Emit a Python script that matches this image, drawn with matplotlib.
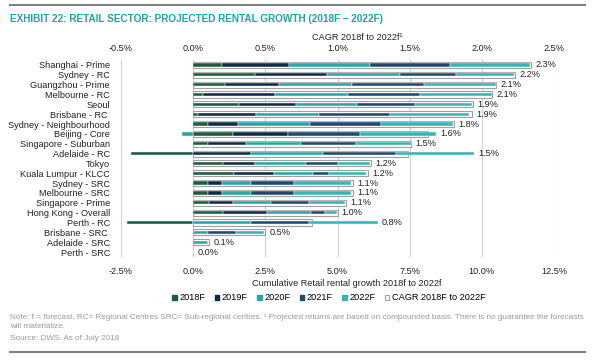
import matplotlib
matplotlib.use("Agg")
import matplotlib.pyplot as plt
from matplotlib.patches import Patch
from matplotlib.lines import Line2D
import numpy as np

plt.rcParams['font.family'] = ['Liberation Sans', 'DejaVu Sans']

# data (percent)
cities = ['Shanghai - Prime', 'Sydney - RC', 'Guangzhou - Prime', 'Melbourne - RC', 'Seoul',
          'Brisbane - RC ', 'Sydney - Neighbourhood', 'Beijing - Core', 'Singapore - Suburban',
          'Adelaide - RC', 'Tokyo', 'Kuala Lumpur - KLCC', 'Sydney - SRC', 'Melbourne - SRC',
          'Singapore - Prime', 'Hong Kong - Overall', 'Perth - RC', 'Brisbane - SRC ',
          'Adelaide - SRC', 'Perth - SRC']
g2018 = [0.99, 2.13, 1.11, 0.34, 1.60, 0.17, 0.52, 1.37, 0.52, -2.16,
         1.02, 1.42, 0.50, 0.50, 0.55, 1.02, -2.30, 0.0, 0.0, 0.0]
g2019 = [2.32, 2.49, 1.86, 2.50, 1.97, 2.00, 1.02, 1.90, 1.32, 2.02,
         1.13, 1.37, 0.50, 0.50, 0.83, 1.54, 0.0, 0.0, 0.0, 0.0]
g2020 = [2.80, 2.53, 2.52, 2.53, 2.11, 2.20, 2.50, -0.38, 1.89, 2.49,
         1.77, 1.35, 1.00, 1.00, 1.32, 1.52, 2.00, 0.50, 0.50, 0.0]
g2021 = [2.79, 1.97, 2.49, 2.49, 2.00, 2.46, 2.48, 2.50, 1.92, 2.52,
         1.09, 0.58, 1.50, 1.50, 1.32, 0.48, 2.00, 1.00, 0.0, 0.0]
g2022 = [2.77, 2.00, 2.50, 2.48, 1.98, 2.72, 2.48, 2.64, 1.89, 2.69,
         1.11, 1.25, 1.98, 1.98, 1.25, 0.42, 2.40, 0.95, 0.0, 0.0]
cagr = [2.34, 2.23, 2.10, 2.07, 1.94, 1.93, 1.81, 1.63, 1.51, 1.49,
        1.23, 1.21, 1.11, 1.11, 1.06, 1.00, 0.82, 0.50, 0.11, 0.0]

series = [('2018F', g2018, '#1d5c3e'), ('2019F', g2019, '#0f2b47'),
          ('2020F', g2020, '#2aa5a8'), ('2021F', g2021, '#1d4a6e'),
          ('2022F', g2022, '#38b4b4')]

fs = 6.6
txt = '#222222'

fig = plt.figure(figsize=(6, 3.6), dpi=100)
ax = fig.add_axes([121/600, 1-257/360, 433/600, 197/360])
ax2 = ax.twiny()
ax.set_zorder(ax2.get_zorder() + 1)
ax.patch.set_visible(False)

y = np.arange(len(cities))

# hollow CAGR bars on the top axis (behind)
ax2.barh(y, cagr, height=0.62, color='white', edgecolor='#a0a0a0', linewidth=0.8, zorder=2)
ax2.set_xlim(-0.5, 2.5)
ax2.set_xticks(np.arange(-0.5, 2.51, 0.5))
ax2.set_xticklabels(['%.1f%%' % v for v in np.arange(-0.5, 2.51, 0.5)])
ax2.grid(axis='x', color='#d0d0d0', linewidth=0.8, zorder=0)
ax2.set_axisbelow(True)

# stacked yearly growth on the bottom axis
pos = np.zeros(len(cities))
neg = np.zeros(len(cities))
for name, vals, col in series:
    v = np.array(vals)
    left = np.where(v >= 0, pos, neg)
    ax.barh(y, v, left=left, height=0.34, color=col, edgecolor='white', linewidth=0.3, zorder=3)
    pos = pos + np.clip(v, 0, None)
    neg = neg + np.clip(v, None, 0)

ax.set_xlim(-2.5, 12.5)
ax.set_xticks(np.arange(-2.5, 12.51, 2.5))
ax.set_xticklabels(['%.1f%%' % v for v in np.arange(-2.5, 12.51, 2.5)])
ax.set_ylim(len(cities) - 0.5, -0.5)
ax2.set_ylim(len(cities) - 0.5, -0.5)
ax.set_yticks(y)
ax.set_yticklabels(cities)

for a in (ax, ax2):
    for s in a.spines.values():
        s.set_visible(False)
    a.tick_params(length=0, labelsize=fs, colors=txt)
ax.tick_params(axis='x', pad=7)
ax2.tick_params(axis='x', pad=5)
ax.tick_params(axis='y', pad=8)

# CAGR labels to the right of whichever bar ends further right
fig.canvas.draw()
for i in range(len(cities)):
    xs = ax.transData.transform((pos[i], 0))[0]
    xc = ax2.transData.transform((cagr[i], 0))[0]
    target, xv = (ax, pos[i]) if xs > xc else (ax2, cagr[i])
    target.annotate('%.1f%%' % cagr[i], (xv, i), xytext=(3, 0), textcoords='offset points',
                    va='center', ha='left', fontsize=fs, color=txt, zorder=5)

fig.text(357/600, 1-38/360, 'CAGR 2018f to 2022f\u00b9', ha='center', va='center', fontsize=fs, color=txt)
fig.text(347/600, 1-284/360, 'Cumulative Retail rental growth 2018f to 2022f', ha='center', va='center',
         fontsize=fs, color=txt)

handles = [Patch(facecolor=c, edgecolor=c, label=n) for n, _, c in series]
handles.append(Patch(facecolor='white', edgecolor='#8a8a8a', linewidth=0.6, label='CAGR 2018F to 2022F'))
fig.legend(handles=handles, loc='center', bbox_to_anchor=(329/600, 1-298/360), ncol=6, frameon=False,
           fontsize=fs, handlelength=0.5, handleheight=0.5, handletextpad=0.3, columnspacing=1.0)

fig.text(10/600, 1-19/360, 'EXHIBIT 22: RETAIL SECTOR: PROJECTED RENTAL GROWTH (2018F \u2013 2022F)',
         ha='left', va='center', fontsize=7.2, fontweight='bold', color='#1fa3a8')
fig.text(10/600, 1-317/360, 'Note: f = forecast. RC= Regional Centres SRC= Sub-regional centres. \u00b9 Projected '
         'returns are based on compounded basis. There is no guarantee the forecasts', ha='left', va='center',
         fontsize=5.85, color='#9a9a9a')
fig.text(10/600, 1-327/360, 'will materialize.', ha='left', va='center', fontsize=5.85, color='#9a9a9a')
fig.text(10/600, 1-338/360, 'Source: DWS. As of July 2018', ha='left', va='center', fontsize=5.85, color='#9a9a9a')

fig.add_artist(Line2D([10/600, 585/600], [1-5/360, 1-5/360], color='#7f7f7f', linewidth=1.5))
fig.add_artist(Line2D([10/600, 585/600], [1-352/360, 1-352/360], color='#7f7f7f', linewidth=1.5))

fig.savefig('out.png', dpi=100)
